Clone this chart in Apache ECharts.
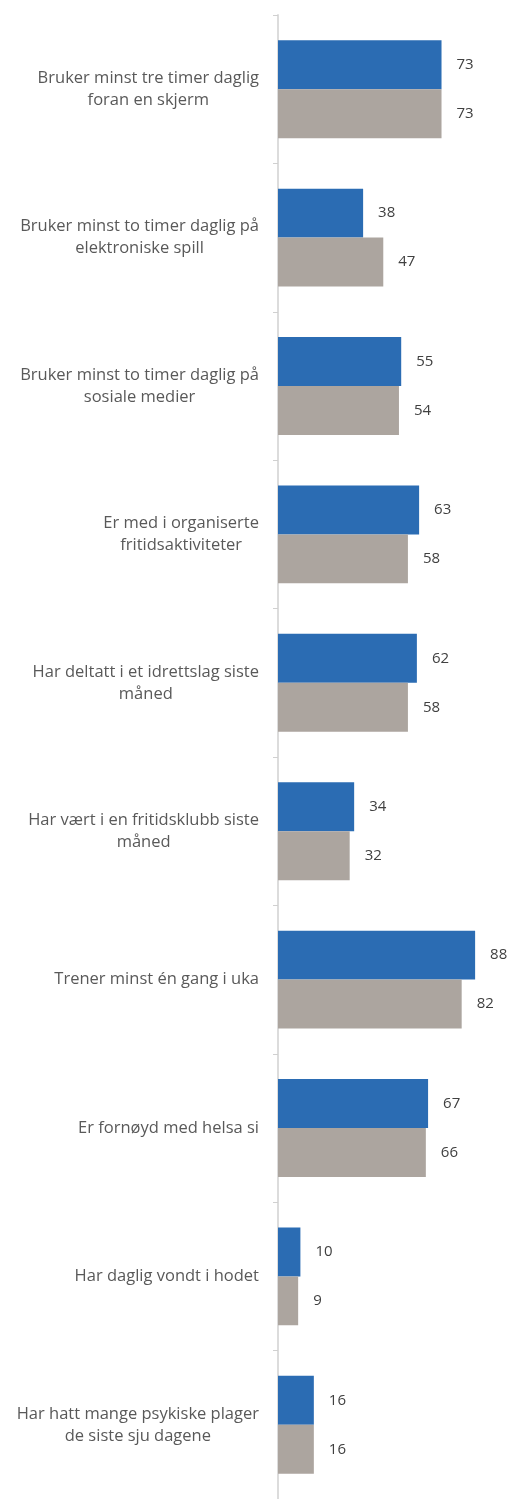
<!DOCTYPE html>
<html>
<head>
<meta charset="utf-8">
<script src="https://cdn.jsdelivr.net/npm/echarts@6/dist/echarts.min.js"></script>
<style>
  html, body { margin: 0; padding: 0; background: #fff; }
  #chart { width: 513px; height: 1499px; }
</style>
</head>
<body>
<div id="chart"></div>
<script>
const categories = [
  'Bruker minst tre timer daglig\nforan en skjerm',
  'Bruker minst to timer daglig på\nelektroniske spill',
  'Bruker minst to timer daglig på\nsosiale medier',
  'Er med i organiserte\nfritidsaktiviteter',
  'Har deltatt i et idrettslag siste\nmåned',
  'Har vært i en fritidsklubb siste\nmåned',
  'Trener minst én gang i uka',
  'Er fornøyd med helsa si',
  'Har daglig vondt i hodet',
  'Har hatt mange psykiske plager\nde siste sju dagene'
];
const blueValues = [73, 38, 55, 63, 62, 34, 88, 67, 10, 16];
const grayValues = [73, 47, 54, 58, 58, 32, 82, 66, 9, 16];

const chart = echarts.init(document.getElementById('chart'));

const valueLabel = {
  show: true,
  position: 'right',
  distance: 15,
  color: '#404040',
  fontSize: 15,
  fontFamily: 'Open Sans'
};

chart.setOption({
  animation: false,
  grid: {
    left: 278,
    right: 11,
    top: 15,
    bottom: -8,
    containLabel: false
  },
  xAxis: {
    type: 'value',
    min: 0,
    max: 100,
    show: false
  },
  yAxis: {
    type: 'category',
    inverse: true,
    data: categories,
    axisLine: { lineStyle: { color: '#dcdcdc', width: 2 } },
    axisTick: { show: true, length: 5, lineStyle: { color: '#d0d0d0', width: 1 } },
    axisLabel: {
      margin: 19,
      formatter: (v)=>v.split('\n').map(s=>'{c|' + s + '}').join('\n'),
      rich: {
        c: {
          align: 'center',
          color: '#595959',
          fontSize: 16.5,
          lineHeight: 22,
          fontFamily: 'Open Sans'
        }
      }
    }
  },
  series: [
    {
      name: 'blue',
      type: 'bar',
      data: blueValues,
      barGap: '0%',
      barCategoryGap: '34%',
      itemStyle: { color: '#2b6cb3' },
      label: valueLabel
    },
    {
      name: 'gray',
      type: 'bar',
      data: grayValues,
      itemStyle: { color: '#aca59f' },
      label: valueLabel
    }
  ]
});
</script>
</body>
</html>
